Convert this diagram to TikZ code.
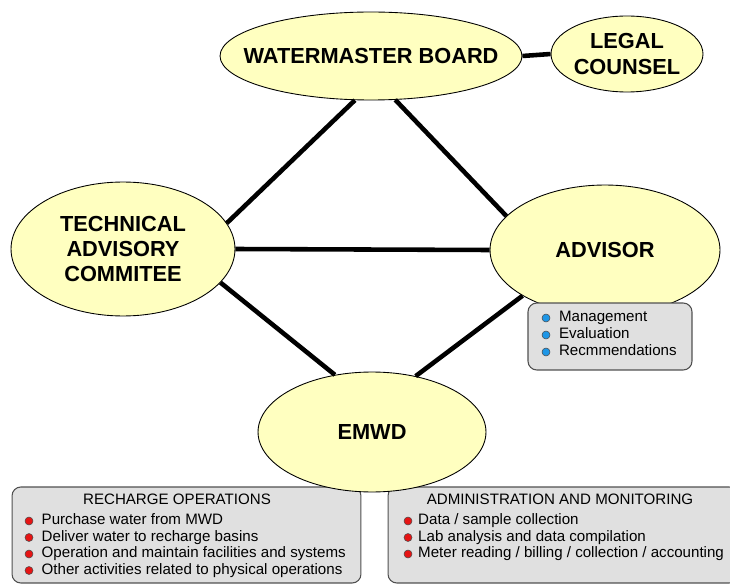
\documentclass[tikz,border=0pt]{standalone}
\usepackage{fontspec}
\setmainfont{Liberation Sans}
\usetikzlibrary{shapes.geometric, positioning}
\definecolor{orgyellow}{RGB}{255,255,192}
\definecolor{orggray}{RGB}{224,224,224}
\definecolor{orgline}{RGB}{80,80,80}
\definecolor{dotred}{RGB}{230,20,20}
\definecolor{dotblue}{RGB}{30,150,230}

\begin{document}
\begin{tikzpicture}[x=0.02cm, y=-0.02cm,
  orgtxt/.style={align=center, inner sep=0pt, font=\bfseries\fontsize{12.4}{14.3}\selectfont},
  orgell/.style={ellipse, draw=black, line width=0.5pt, fill=orgyellow, inner sep=0pt, label={[orgtxt]center:#1}},
  infobox/.style={draw=orgline, fill=orggray, rounded corners=5pt, line width=0.6pt, inner sep=0pt},
  link/.style={line width=2.6pt, black},
  dot/.style={circle, draw=black!70, line width=0.3pt, inner sep=0pt, minimum size=0.16cm},
  itemtxt/.style={inner sep=0pt, text height=6.2pt, text depth=1.8pt, font=\fontsize{8.6}{9.4}\selectfont},
  headtxt/.style={inner sep=0pt, font=\fontsize{8.6}{9.4}\selectfont}
]
\useasboundingbox (0,0) rectangle (730,584);

% task boxes at the bottom
\node[infobox, minimum width=6.98cm, minimum height=1.92cm] (rechbox) at (186.5,535) {};
\node[infobox, minimum width=7cm, minimum height=1.92cm] (adminbox) at (563,535) {};
\node[headtxt] (rechhead) at (177,499) {RECHARGE OPERATIONS};
\node[headtxt] (adminhead) at (560,499) {ADMINISTRATION AND MONITORING};
\foreach \txt [count=\i] in {Purchase water from MWD, Deliver water to recharge basins,
    Operation and maintain facilities and systems, Other activities related to physical operations} {
  \node[dot, fill=dotred] (rechdot\i) at (29,{504.5+16.5*\i}) {};
  \node[itemtxt, right=4.6pt of rechdot\i] (rechitem\i) {\txt};
}
\foreach \txt [count=\i] in {Data / sample collection, Lab analysis and data compilation,
    Meter reading / billing / collection / accounting} {
  \node[dot, fill=dotred] (admindot\i) at (408,{504.5+16.5*\i}) {};
  \node[itemtxt, right=3.2pt of admindot\i] (adminitem\i) {\txt};
}

% bodies
\node[orgell={WATERMASTER BOARD}, minimum width=6.04cm, minimum height=1.76cm] (board) at (371,56) {};
\node[orgell={LEGAL\\COUNSEL}, minimum width=3.04cm, minimum height=1.52cm] (legal) at (627,54) {};
\node[orgell={TECHNICAL\\ADVISORY\\COMMITEE}, minimum width=4.48cm, minimum height=2.68cm] (tac) at (123,249) {};
\node[orgell={ADVISOR}, minimum width=4.6cm, minimum height=2.6cm] (advisor) at (605,250) {};
\node[orgell={EMWD}, minimum width=4.56cm, minimum height=2.4cm] (emwd) at (372,432) {};

% advisor tasks
\node[infobox, minimum width=3.28cm, minimum height=1.34cm] (advbox) at (610,336.5) {};
\foreach \txt [count=\i] in {Management, Evaluation, Recmmendations} {
  \node[dot, fill=dotblue] (advdot\i) at (546,{301+17*\i}) {};
  \node[itemtxt, right=4.8pt of advdot\i] (advitem\i) {\txt};
}

% links
\draw[link] (board.east) -- (legal.west);
\draw[link] (board.250) -- (tac.14);
\draw[link] (board.299) -- (advisor.161);
\draw[link] (tac.east) -- (advisor.west);
\draw[link] (tac.341) -- (emwd.123);
\draw[link] (advisor.209) -- (emwd.52);
\end{tikzpicture}
\end{document}
